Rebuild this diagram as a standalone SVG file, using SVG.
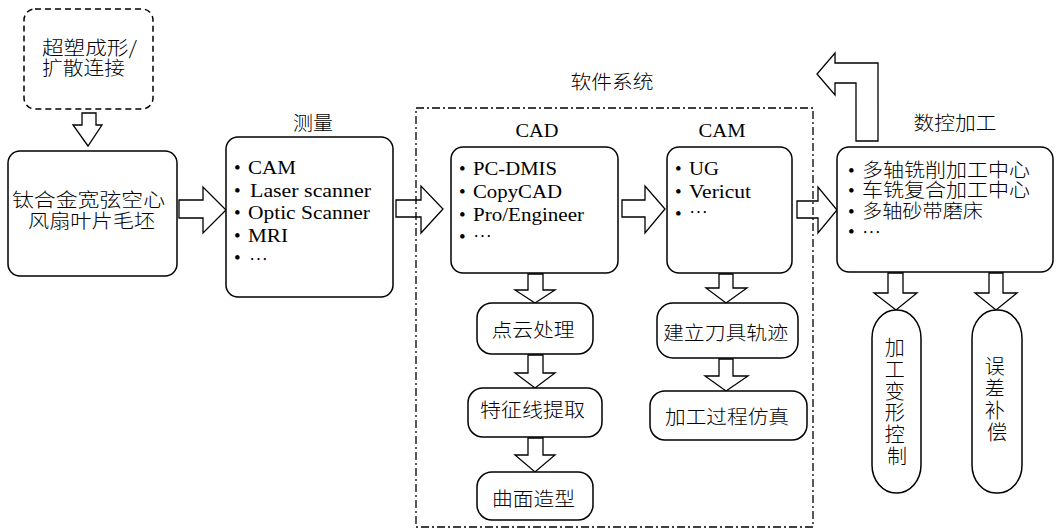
<svg xmlns="http://www.w3.org/2000/svg" width="1057" height="530" viewBox="0 0 1057 530">
<style>
.box{fill:#fff;stroke:#000;stroke-width:1.5}
.dash{fill:none;stroke:#000;stroke-width:1.5;stroke-dasharray:6 4}
.dashdot{fill:none;stroke:#000;stroke-width:1.3;stroke-dasharray:8 3 2 3}
.arr{fill:#fff;stroke:#000;stroke-width:1.3;stroke-linejoin:miter}
.cn{font-family:"Noto Sans CJK SC","Noto Sans",sans-serif;font-size:19px;font-weight:300;fill:#000}
.en{font-family:"Liberation Serif","Times New Roman",serif;font-size:19px;fill:#000}
.mid{text-anchor:middle}
</style>
<rect width="1057" height="530" fill="#fff"/>

<g id="connectors">
  <polygon class="arr" points="82,113 96,113 96,125 102,125 88,146 73,125 82,125"/>
  <polygon class="arr" points="179,200 203,200 203,187 226,210 203,233 203,218 179,218"/>
  <polygon class="arr" points="396,200 421,200 421,186 443,209 421,233 421,217 396,217"/>
  <polygon class="arr" points="622,200 645,200 645,186 665,209 645,233 645,217 622,217"/>
  <polygon class="arr" points="797,201 818,201 818,187 837,210 818,233 818,218 797,218"/>
  <polygon class="arr" points="856,141 878,141 878,63 835,63 835,53 817,74 835,95 835,83 856,83"/>
  <polygon class="arr" points="528,274 543,274 543,290 555,290 535,303 515,290 528,290"/>
  <polygon class="arr" points="528,355 543,355 543,373 555,373 535,388 515,373 528,373"/>
  <polygon class="arr" points="528,438 543,438 543,455 555,455 535,472 515,455 528,455"/>
  <polygon class="arr" points="719,274 733,274 733,288 747,288 726,303 706,288 719,288"/>
  <polygon class="arr" points="719,359 733,359 733,376 748,376 726,391 705,376 719,376"/>
  <polygon class="arr" points="888,273 903,273 903,293 917,293 896,310 874,293 888,293"/>
  <polygon class="arr" points="989,273 1003,273 1003,293 1017,293 996,310 975,293 989,293"/>
</g>

<g id="software-system">
  <rect class="dashdot" x="416" y="108" width="397" height="419"/>
  <text class="cn mid" x="612" y="89" textLength="83" lengthAdjust="spacingAndGlyphs">软件系统</text>
</g>

<g id="node-superplastic">
  <rect class="dash" x="24" y="9" width="129" height="100" rx="11"/>
  <text class="cn" x="42" y="55" textLength="95" lengthAdjust="spacingAndGlyphs">超塑成形/</text>
  <text class="cn" x="42" y="75" textLength="83" lengthAdjust="spacingAndGlyphs">扩散连接</text>
</g>

<g id="node-blank">
  <rect class="box" x="8" y="151" width="169" height="125" rx="12"/>
  <text class="cn mid" x="88.5" y="207" textLength="153" lengthAdjust="spacingAndGlyphs">钛合金宽弦空心</text>
  <text class="cn mid" x="91.5" y="228" textLength="127" lengthAdjust="spacingAndGlyphs">风扇叶片毛坯</text>
</g>

<g id="node-measure">
  <text class="cn mid" x="313" y="130" textLength="40" lengthAdjust="spacingAndGlyphs">测量</text>
  <rect class="box" x="226" y="137" width="167" height="160" rx="12"/>
  <text class="en" x="234" y="174">•</text>
  <text class="en" x="248" y="174" textLength="48" lengthAdjust="spacingAndGlyphs">CAM</text>
  <text class="en" x="234" y="196.5">•</text>
  <text class="en" x="250" y="196.5" textLength="121" lengthAdjust="spacingAndGlyphs">Laser scanner</text>
  <text class="en" x="234" y="219">•</text>
  <text class="en" x="248" y="219" textLength="122" lengthAdjust="spacingAndGlyphs">Optic Scanner</text>
  <text class="en" x="234" y="241.5">•</text>
  <text class="en" x="248" y="241.5" textLength="40" lengthAdjust="spacingAndGlyphs">MRI</text>
  <text class="en" x="234" y="264">•</text>
  <text class="cn" x="249" y="267" textLength="19" lengthAdjust="spacingAndGlyphs">…</text>
</g>

<g id="node-cad">
  <text class="en mid" x="537" y="137" textLength="43" lengthAdjust="spacingAndGlyphs">CAD</text>
  <rect class="box" x="451" y="147" width="167" height="126" rx="12"/>
  <text class="en" x="459" y="175">•</text>
  <text class="en" x="473" y="175" textLength="84" lengthAdjust="spacingAndGlyphs">PC-DMIS</text>
  <text class="en" x="459" y="198">•</text>
  <text class="en" x="473" y="198" textLength="89" lengthAdjust="spacingAndGlyphs">CopyCAD</text>
  <text class="en" x="459" y="221">•</text>
  <text class="en" x="473" y="221" textLength="111" lengthAdjust="spacingAndGlyphs">Pro/Engineer</text>
  <text class="en" x="459" y="243">•</text>
  <text class="cn" x="473" y="244" textLength="19" lengthAdjust="spacingAndGlyphs">…</text>
</g>

<g id="node-cam">
  <text class="en mid" x="722" y="137" textLength="47" lengthAdjust="spacingAndGlyphs">CAM</text>
  <rect class="box" x="667" y="147" width="125" height="126" rx="12"/>
  <text class="en" x="675" y="175">•</text>
  <text class="en" x="689" y="175" textLength="30" lengthAdjust="spacingAndGlyphs">UG</text>
  <text class="en" x="675" y="198">•</text>
  <text class="en" x="689" y="198" textLength="62" lengthAdjust="spacingAndGlyphs">Vericut</text>
  <text class="en" x="675" y="220">•</text>
  <text class="cn" x="689" y="220" textLength="19" lengthAdjust="spacingAndGlyphs">…</text>
</g>

<g id="node-cnc">
  <text class="cn mid" x="955" y="130" textLength="83" lengthAdjust="spacingAndGlyphs">数控加工</text>
  <rect class="box" x="837" y="147" width="216" height="125" rx="12"/>
  <text class="en" x="848" y="177">•</text>
  <text class="cn" x="862" y="177" textLength="168" lengthAdjust="spacingAndGlyphs">多轴铣削加工中心</text>
  <text class="en" x="848" y="197">•</text>
  <text class="cn" x="862" y="197" textLength="168" lengthAdjust="spacingAndGlyphs">车铣复合加工中心</text>
  <text class="en" x="848" y="218">•</text>
  <text class="cn" x="862" y="218" textLength="121" lengthAdjust="spacingAndGlyphs">多轴砂带磨床</text>
  <text class="en" x="848" y="238">•</text>
  <text class="cn" x="862" y="240" textLength="19" lengthAdjust="spacingAndGlyphs">…</text>
</g>

<g id="node-pointcloud">
  <rect class="box" x="477" y="303" width="116" height="51" rx="15"/>
  <text class="cn mid" x="533" y="337" textLength="83" lengthAdjust="spacingAndGlyphs">点云处理</text>
</g>

<g id="node-feature">
  <rect class="box" x="468" y="388" width="134" height="49" rx="15"/>
  <text class="cn mid" x="532.5" y="417" textLength="105" lengthAdjust="spacingAndGlyphs">特征线提取</text>
</g>

<g id="node-surface">
  <rect class="box" x="477" y="472" width="116" height="48" rx="15"/>
  <text class="cn mid" x="533.5" y="506" textLength="83" lengthAdjust="spacingAndGlyphs">曲面造型</text>
</g>

<g id="node-toolpath">
  <rect class="box" x="657" y="303" width="141" height="55" rx="16"/>
  <text class="cn mid" x="725.5" y="340" textLength="125" lengthAdjust="spacingAndGlyphs">建立刀具轨迹</text>
</g>

<g id="node-simulation">
  <rect class="box" x="650" y="391" width="157" height="49" rx="15"/>
  <text class="cn mid" x="727" y="424" textLength="124" lengthAdjust="spacingAndGlyphs">加工过程仿真</text>
</g>

<g id="node-deformation">
  <rect class="box" x="872" y="310" width="49" height="183" rx="24" ry="28"/>
  <text class="cn mid" x="897" style="font-size:20px">
    <tspan x="897" y="355">加</tspan>
    <tspan x="897" y="377">工</tspan>
    <tspan x="897" y="399">变</tspan>
    <tspan x="897" y="420">形</tspan>
    <tspan x="897" y="442">控</tspan>
    <tspan x="897" y="464">制</tspan>
  </text>
</g>

<g id="node-compensation">
  <rect class="box" x="972" y="310" width="50" height="183" rx="24" ry="28"/>
  <text class="cn mid" x="997" style="font-size:20px">
    <tspan x="997" y="374">误</tspan>
    <tspan x="997" y="396">差</tspan>
    <tspan x="997" y="418">补</tspan>
    <tspan x="997" y="440">偿</tspan>
  </text>
</g>
</svg>
